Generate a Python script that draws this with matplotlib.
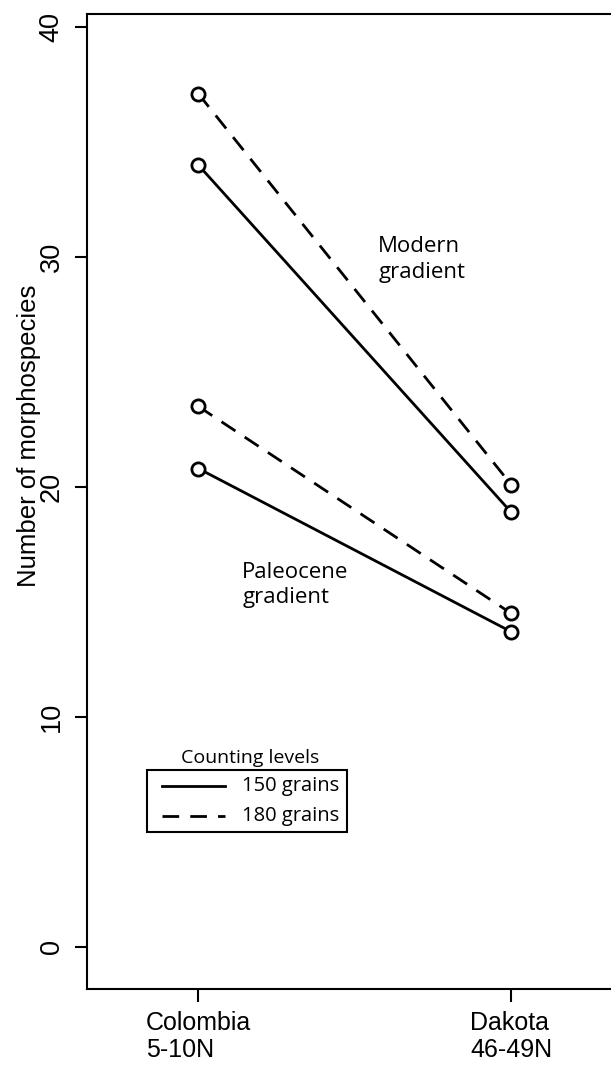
import matplotlib
matplotlib.use("Agg")
import matplotlib.pyplot as plt
from matplotlib.lines import Line2D
from matplotlib.patches import Rectangle

# Morphospecies counts at two sites, two counting levels
sites = ["Colombia\n5-10N", "Dakota\n46-49N"]
site_x = [1, 2]
modern_150 = [34.0, 18.9]
modern_180 = [37.1, 20.1]
paleo_150 = [20.8, 13.7]
paleo_180 = [23.5, 14.5]
y_ticks = [0, 10, 20, 30, 40]
legend_labels = ["150 grains", "180 grains"]

axis_font = ["Liberation Sans", "DejaVu Sans"]
note_font = ["Open Sans", "DejaVu Sans"]
dashed = (0, (6, 4))

W, H = 611, 1065
fig = plt.figure(figsize=(W / 100, H / 100), dpi=100)
fig.patch.set_facecolor("white")

# axes box in pixels: left 87, top 14, bottom 989, right runs off the page
left, top, bottom, right = 87, 14, 989, 640
ax = fig.add_axes([left / W, (H - bottom) / H, (right - left) / W, (bottom - top) / H])


def px(x, y):
    """pixel position on the page -> axes fraction"""
    return (x - left) / (right - left), (bottom - y) / (bottom - top)


line_kw = dict(color="black", lw=2.0, marker="o", markersize=9.5,
               markerfacecolor="white", markeredgewidth=2.0, markeredgecolor="black")
ax.plot(site_x, modern_150, ls="-", **line_kw)
ax.plot(site_x, paleo_150, ls="-", **line_kw)
ax.plot(site_x, modern_180, ls=dashed, **line_kw)
ax.plot(site_x, paleo_180, ls=dashed, **line_kw)

ax.set_xlim(0.644, 2.412)
ax.set_ylim(-1.84, 40.57)

ax.set_xticks(site_x)
ax.set_xticklabels(sites, family=axis_font, fontsize=18, ha="center",
                   multialignment="left", linespacing=1.15)
ax.set_yticks(y_ticks)
ax.set_yticklabels([str(v) for v in y_ticks], family=axis_font, fontsize=19.5,
                   rotation=90, va="center")
ax.tick_params(axis="both", direction="out", length=9, width=1.5, colors="black")
ax.tick_params(axis="x", pad=7)
ax.tick_params(axis="y", pad=7)
ax.set_ylabel("Number of morphospecies", family=axis_font, fontsize=18.5)
ax.yaxis.set_label_coords(*px(41, 436))

for side in ["left", "bottom", "top", "right"]:
    ax.spines[side].set_linewidth(1.5)

ax.text(1.575, 29.9, "Modern\ngradient", family=note_font, fontsize=16,
        ha="left", va="center", linespacing=1.3)
ax.text(1.14, 15.73, "Paleocene\ngradient", family=note_font, fontsize=16,
        ha="left", va="center", linespacing=1.3)

# legend: framed key with its title sitting above the frame
bx0, by0 = px(147, 832)
bx1, by1 = px(347, 770)
ax.add_patch(Rectangle((bx0, by0), bx1 - bx0, by1 - by0, transform=ax.transAxes,
                       fill=False, edgecolor="black", lw=1.5))
for row_y, ls, label in zip([786, 816], ["-", dashed], legend_labels):
    x0, y0 = px(162, row_y)
    x1, _ = px(225, row_y)
    ax.add_line(Line2D([x0, x1], [y0, y0], transform=ax.transAxes,
                       color="black", lw=2.0, ls=ls))
    tx, ty = px(242, row_y)
    ax.text(tx, ty, label, transform=ax.transAxes, family=note_font,
            fontsize=14.5, ha="left", va="center")
ax.text(*px(250, 758), "Counting levels", transform=ax.transAxes,
        family=note_font, fontsize=14, ha="center", va="center")

fig.savefig("out.png", dpi=100, facecolor="white")
